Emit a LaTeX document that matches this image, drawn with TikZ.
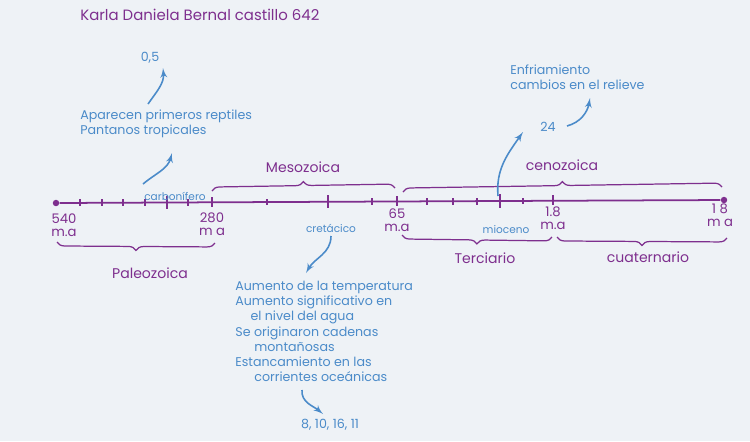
\documentclass[tikz,border=0pt]{standalone}
\usepackage{fontspec}
\setmainfont{Poppins}
\usetikzlibrary{arrows, decorations.pathreplacing}
\definecolor{lila}{HTML}{7E2F8E}
\definecolor{azul}{HTML}{4B8BC9}
\definecolor{fondo}{HTML}{EEF2F6}

\begin{document}
\begin{tikzpicture}[x=0.02cm, y=-0.02cm, >=latex', font=\fontsize{7.5}{8}\selectfont,
  punto/.style={circle, fill=lila, inner sep=1.3pt},
  linea/.style={lila, line width=1pt},
  marca/.style={lila, line width=0.7pt},
  llave/.style={lila, line width=0.7pt, decorate, decoration={brace, amplitude=4.5pt}},
  era/.style={text=lila, font=\fontsize{8}{9}\selectfont},
  fecha/.style={text=lila, align=center, inner sep=0pt, font=\fontsize{7.5}{7.5}\selectfont},
  nota/.style={text=azul, align=left, inner sep=0pt, font=\fontsize{7.2}{8.6}\selectfont},
  chica/.style={text=azul, inner sep=0pt, font=\fontsize{6}{6}\selectfont},
  flecha/.style={azul, line width=0.9pt, ->}]
  \fill[fondo] (0,0) rectangle (750,441);
  \useasboundingbox (0,0) rectangle (750,441);

  \node (titulo) at (80,15) [anchor=west, inner sep=0pt, text=lila, font=\fontsize{8.5}{10}\selectfont] {Karla Daniela Bernal castillo 642};

  % linea del tiempo
  \node (ini) at (56,203) [punto] {};
  \node (fin) at (724,200) [punto] {};
  \draw[linea] (ini) -- (fin);
  \draw[marca] (80,199) -- (80,206) (102,199) -- (102,206) (123,199) -- (123,206)
    (145,199) -- (145,206) (188,199) -- (188,206) (267,199) -- (267,205)
    (372,198) -- (372,205) (427,198) -- (427,205) (453,198) -- (453,205)
    (477,198) -- (477,205) (523,198) -- (523,204);
  \draw[marca] (167,196) -- (167,209) (212,197) -- (212,207) (328,195) -- (328,208)
    (397,196) -- (397,206) (500,194) -- (500,208) (553,195) -- (553,205);

  \node (l540) at (64,225) [fecha] {540\\m.a};
  \node (l280) at (212,224) [fecha] {280\\m a};
  \node (l65) at (397,220) [fecha] {65\\m.a};
  \node (l18) at (553,218) [fecha] {1.8\\m.a};
  \node (l0) at (720,215) [fecha] {1 8\\m a};

  % eras
  \draw[llave] (212,191) -- (395,188);
  \draw[llave] (403,192) -- (722,187);
  \draw[llave] (215,243) -- (57,242);
  \draw[llave] (552,237) -- (402,235);
  \draw[llave] (727,238) -- (557,237);
  \node (meso) at (303,167) [era] {Mesozoica};
  \node (ceno) at (562,165) [era] {cenozoica};
  \node (paleo) at (150,273) [era] {Paleozoica};
  \node (terc) at (485,258) [era] {Terciario};
  \node (cuat) at (648,257) [era] {cuaternario};

  % periodos
  \node (carb) at (175,196) [chica] {carbonífero};
  \node (cret) at (331,228) [chica] {cretácico};
  \node (mio) at (506,230) [chica] {mioceno};

  \node (cero) at (150,58) [nota] {0,5};
  \node (rept) at (80,124) [nota, anchor=west] {Aparecen primeros reptiles\\Pantanos tropicales};
  \node (efec) at (235,281) [nota, anchor=north west] {Aumento de la temperatura\\Aumento significativo en\\\hspace{1.2em}el nivel del agua\\Se originaron cadenas\\\hspace{1.5em}montañosas\\Estancamiento en las\\\hspace{1.5em}corrientes oceánicas};
  \node (nums) at (330,425) [nota] {8, 10, 16, 11};
  \node (enfr) at (510,77) [nota, anchor=west] {Enfriamiento\\cambios en el relieve};
  \node (vein) at (548,127) [nota] {24};

  \coordinate (a1) at (143,184);
  \coordinate (a2) at (172,153);
  \coordinate (b1) at (148,104);
  \coordinate (b2) at (163,68);
  \coordinate (c1) at (331,236);
  \coordinate (c2) at (306,273);
  \coordinate (d1) at (302,390);
  \coordinate (d2) at (323,414);
  \coordinate (e1) at (498,196);
  \coordinate (e2) at (523,132);
  \coordinate (f1) at (567,126);
  \coordinate (f2) at (590,98);

  \draw[flecha] (a1) to[out=40, in=-105] (a2);
  \draw[flecha] (b1) to[out=55, in=-85] (b2);
  \draw[flecha] (c1) to[out=-90, in=60] (c2);
  \draw[flecha] (d1) to[out=-95, in=140] (d2);
  \draw[flecha] (e1) to[out=95, in=-125] (e2);
  \draw[flecha] (f1) to[out=15, in=-100] (f2);
\end{tikzpicture}
\end{document}
